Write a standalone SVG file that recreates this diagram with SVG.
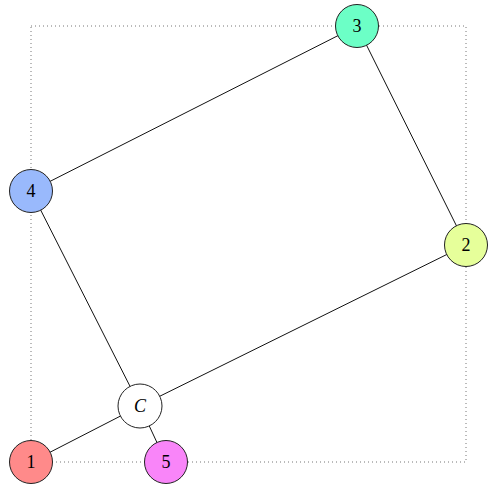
<svg xmlns="http://www.w3.org/2000/svg" width="498" height="492" viewBox="0 0 498 492">
<style>
.box{fill:none;stroke:#777;stroke-width:1;stroke-dasharray:1,3}
.edge{stroke:#111;stroke-width:1;fill:none}
.node circle{stroke:#222;stroke-width:1}
.node text{font-family:"Liberation Serif","DejaVu Serif",serif;font-size:18px;text-anchor:middle;dominant-baseline:central;fill:#000}
</style>
<rect class="box" x="31" y="26" width="435" height="436"/>
<g id="connectors">
<line class="edge" x1="31" y1="191" x2="357" y2="26"/>
<line class="edge" x1="357" y1="26" x2="466" y2="245"/>
<line class="edge" x1="466" y1="245" x2="140" y2="406"/>
<line class="edge" x1="140" y1="406" x2="31" y2="191"/>
<line class="edge" x1="140" y1="406" x2="31" y2="462"/>
<line class="edge" x1="140" y1="406" x2="166" y2="462"/>
</g>
<g id="node-1" class="node"><circle cx="31" cy="462" r="21.5" fill="#ff8a8a"/><text x="31" y="462">1</text></g>
<g id="node-5" class="node"><circle cx="166" cy="462" r="21.5" fill="#f985f9"/><text x="166" y="462">5</text></g>
<g id="node-4" class="node"><circle cx="31" cy="191" r="21.5" fill="#99b9fc"/><text x="31" y="191">4</text></g>
<g id="node-2" class="node"><circle cx="466" cy="245" r="21.5" fill="#e6ff9a"/><text x="466" y="245">2</text></g>
<g id="node-3" class="node"><circle cx="357" cy="26" r="21.5" fill="#6cffc6"/><text x="357" y="26">3</text></g>
<g id="node-C" class="node"><circle cx="140" cy="406" r="22" fill="#ffffff"/><text x="140" y="406" font-style="italic" font-size="19">C</text></g>
</svg>
